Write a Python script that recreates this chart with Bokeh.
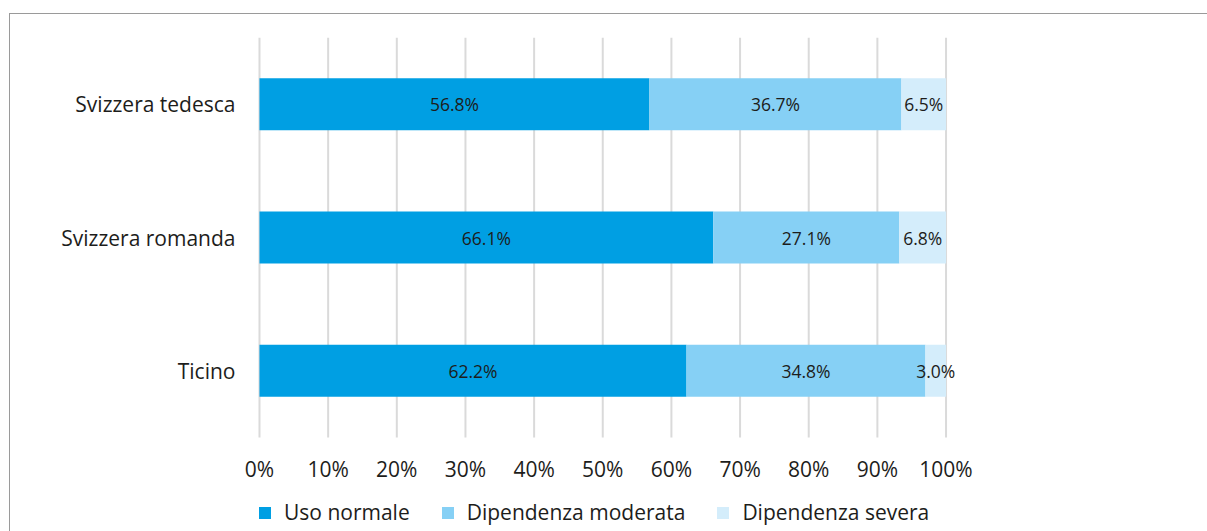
from bokeh.plotting import figure
from bokeh.models import (Range1d, FixedTicker, PrintfTickFormatter, LinearAxis,
                          Legend, LegendItem, ColumnDataSource)
from bokeh.core.properties import value
from bokeh.embed import file_html
from bokeh.resources import INLINE

categories = ["Svizzera tedesca", "Svizzera romanda", "Ticino"]
uso_normale = [56.8, 66.1, 62.2]
dip_moderata = [36.7, 27.1, 34.8]
dip_severa = [6.5, 6.8, 3.0]
series_names = ["Uso normale", "Dipendenza moderata", "Dipendenza severa"]
x_ticks = [0, 10, 20, 30, 40, 50, 60, 70, 80, 90, 100]

colors = ["#009FE3", "#86D0F5", "#D4EDFB"]
FONT = "Open Sans"
TXT = "#1d1d1b"

n = len(categories)
ypos = [n - i for i in range(n)]          # top category highest
PX = 6.87                                 # px per percent
PAD_L = 20                                # frame room left of 0%
XMAX = 104
XMIN = -PAD_L / PX
FW = PAD_L + int(round(PX * XMAX))
BL = 259 - 10 - PAD_L
UNIT = 400 / n
FH = 494
y_lo = 0.5 - (FH - 400) / UNIT

p = figure(x_range=Range1d(XMIN, XMAX), y_range=Range1d(y_lo, n + 0.5),
           frame_width=FW, frame_height=FH,
           min_border_left=BL, min_border_top=23,
           min_border_right=1197 - BL - FW, min_border_bottom=0,
           x_axis_location=None,
           output_backend="svg", toolbar_location=None)
p.styles = {"margin-top": "13px", "margin-left": "9px",
            "border-top": "1px solid #9a9a9a", "border-left": "1px solid #9a9a9a"}
p.outline_line_color = None
p.background_fill_color = "white"
p.border_fill_color = "white"
p.xgrid.grid_line_color = None
p.ygrid.grid_line_color = None

# vertical grid lines limited to the category band
p.segment(x0=x_ticks, x1=x_ticks, y0=0.5, y1=n + 0.5, line_color="#dadada", line_width=2)

src = ColumnDataSource(dict(y=ypos, uso=uso_normale, mod=dip_moderata, sev=dip_severa))
renderers = p.hbar_stack(["uso", "mod", "sev"], y="y", height=0.39, color=colors,
                         line_color=None, source=src)

cols = [uso_normale, dip_moderata, dip_severa]
for i in range(3):
    centers = []
    for j in range(n):
        start = sum(cols[k][j] for k in range(i))
        centers.append(start + cols[i][j] / 2)
    labs = ["%.1f%%" % v for v in cols[i]]
    p.text(x=centers, y=ypos, text=labs, text_align="center", text_baseline="middle",
           text_font=value(FONT), text_font_size="17.5px", text_color=TXT)

xaxis = LinearAxis(fixed_location=0.5, ticker=FixedTicker(ticks=x_ticks),
                   formatter=PrintfTickFormatter(format="%d%%"))
p.add_layout(xaxis, "below")

p.yaxis.ticker = FixedTicker(ticks=ypos)
p.yaxis.major_label_overrides = {y: c for y, c in zip(ypos, categories)}

for ax in (xaxis, p.yaxis[0]):
    ax.axis_line_color = None
    ax.major_tick_line_color = None
    ax.minor_tick_line_color = None
    ax.major_tick_out = 0
    ax.major_tick_in = 0
    ax.major_label_text_font = FONT
    ax.major_label_text_font_size = "21px"
    ax.major_label_text_color = TXT
xaxis.major_label_standoff = 17
p.yaxis.major_label_standoff = 24 - PAD_L

legend = Legend(items=[LegendItem(label=nm, renderers=[r]) for nm, r in zip(series_names, renderers)],
                orientation="horizontal", location=(PAD_L - 2, 5),
                glyph_width=15, glyph_height=15, label_standoff=12, spacing=30,
                padding=0, margin=0, border_line_color=None, background_fill_alpha=0,
                label_text_font=FONT, label_text_font_size="21px", label_text_color=TXT)
p.add_layout(legend, "center")

open("out.html", "w").write(file_html(p, INLINE))
